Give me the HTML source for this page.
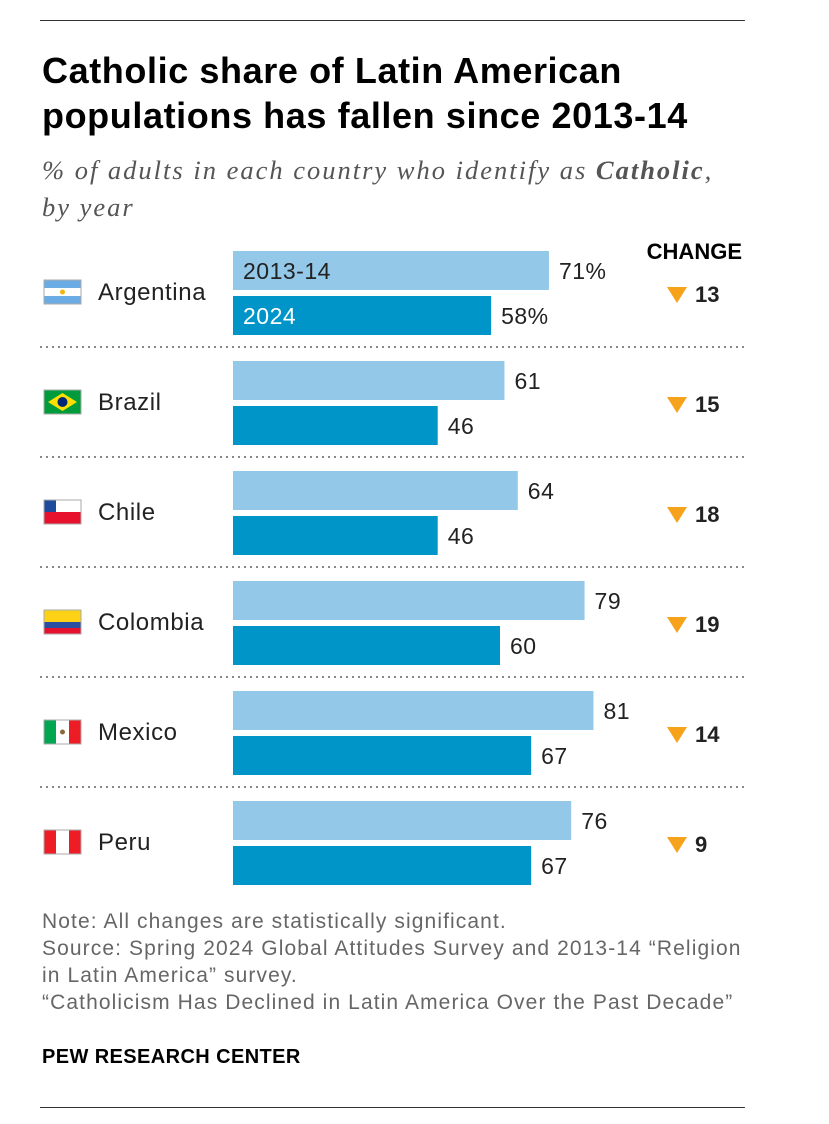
<!DOCTYPE html>
<html><head><meta charset="utf-8"><style>
body{margin:0;background:#fff;width:829px;height:1124px;position:relative;font-family:"Liberation Sans",sans-serif;color:#222}
.abs{position:absolute}
.title{left:42px;top:48px;font-size:36px;font-weight:bold;line-height:45px;color:#000;letter-spacing:0.6px;white-space:nowrap}
.sub{left:42px;top:152px;font-family:"Liberation Serif",serif;font-style:italic;font-size:26.5px;line-height:37px;color:#555;letter-spacing:2px;white-space:nowrap}
.note{left:42px;top:908px;font-size:21px;line-height:27px;color:#666;letter-spacing:1.1px;white-space:nowrap}
</style></head><body>
<div class="abs" style="left:40px;top:20px;width:705px;height:1px;background:#333"></div>
<div class="abs title">Catholic share of Latin American<br>populations has fallen since 2013-14</div>
<div class="abs sub">% of adults in each country who identify as <b>Catholic</b>,<br>by year</div>
<svg class="abs" style="left:0;top:0" width="829" height="900" id="chart"></svg>
<div class="abs note">Note: All changes are statistically significant.<br>Source: Spring 2024 Global Attitudes Survey and 2013-14 “Religion<br>in Latin America” survey.<br>“Catholicism Has Declined in Latin America Over the Past Decade”</div>
<div class="abs" style="left:42px;top:1046px;font-size:20px;font-weight:bold;color:#000;letter-spacing:0.4px">PEW RESEARCH CENTER</div>
<div class="abs" style="left:40px;top:1107px;width:705px;height:1px;background:#333"></div>
<script>
const countries=["Argentina","Brazil","Chile","Colombia","Mexico","Peru"];
const v2013=[71,61,64,79,81,76];
const v2024=[58,46,46,60,67,67];
const NS="http://www.w3.org/2000/svg";
const svg=document.getElementById('chart');
const x0=233, k=4.45;
function xs(v){return x0+v*k;}
function rowY(i){return 251+i*110;}
function mk(t,a,txt){const e=document.createElementNS(NS,t);for(const n in a)e.setAttribute(n,a[n]);if(txt!==undefined)e.textContent=txt;svg.appendChild(e);return e;}
const h=mk('text',{x:742,y:259,'text-anchor':'end','font-size':22,'font-weight':'bold',fill:'#000','font-family':'Liberation Sans'},'CHANGE');


function flag(i,y){
  const g=document.createElementNS(NS,'g');svg.appendChild(g);
  
  
  const X=44,W=37,H=24;
  function r(x,yy,w,hh,f){const e=document.createElementNS(NS,'rect');e.setAttribute('x',x);e.setAttribute('y',yy);e.setAttribute('width',w);e.setAttribute('height',hh);e.setAttribute('fill',f);g.appendChild(e);}
  const c=countries[i];
  if(c==="Argentina"){r(X,y,W,H,'#fff');r(X,y,W,8,'#6cace4');r(X,y+16,W,8,'#6cace4');const s=document.createElementNS(NS,'circle');s.setAttribute('cx',X+18.5);s.setAttribute('cy',y+12);s.setAttribute('r',2.5);s.setAttribute('fill','#f6b40e');g.appendChild(s);}
  if(c==="Brazil"){r(X,y,W,H,'#009b3a');const p=document.createElementNS(NS,'polygon');p.setAttribute('points',`${X+4},${y+12} ${X+18.5},${y+3} ${X+33},${y+12} ${X+18.5},${y+21}`);p.setAttribute('fill','#fedf00');g.appendChild(p);const s=document.createElementNS(NS,'circle');s.setAttribute('cx',X+18.5);s.setAttribute('cy',y+12);s.setAttribute('r',5);s.setAttribute('fill','#002776');g.appendChild(s);}
  if(c==="Chile"){r(X,y,W,12,'#fff');r(X,y+12,W,12,'#e8112d');r(X,y,12,12,'#1e4b9b');}
  if(c==="Colombia"){r(X,y,W,12,'#fcd116');r(X,y+12,W,6,'#2a4ea1');r(X,y+18,W,6,'#e8112d');}
  if(c==="Mexico"){r(X,y,W,H,'#fff');r(X,y,12,H,'#00a650');r(X+25,y,12,H,'#ee1c25');const s=document.createElementNS(NS,'circle');s.setAttribute('cx',X+18.5);s.setAttribute('cy',y+12);s.setAttribute('r',2.5);s.setAttribute('fill','#8a6a3a');g.appendChild(s);}
  if(c==="Peru"){r(X,y,W,H,'#fff');r(X,y,12,H,'#ee1c25');r(X+25,y,12,H,'#ee1c25');}
  const b=document.createElementNS(NS,'rect');b.setAttribute('x',X);b.setAttribute('y',y);b.setAttribute('width',W);b.setAttribute('height',H);b.setAttribute('fill','none');b.setAttribute('stroke','#aaa');b.setAttribute('stroke-width',1);g.appendChild(b);
}
countries.forEach((c,i)=>{
  const y=rowY(i);
  flag(i,y+29);
  const lb=mk('text',{x:98,y:y+49,'font-size':24,'letter-spacing':0.6,fill:'#222','font-family':'Liberation Sans'},c);
  
  
  const b1=mk('rect',{x:x0,y:y,width:xs(v2013[i])-x0,height:39,fill:'#93c8e8'});
  
  
  const b2=mk('rect',{x:x0,y:y+45,width:xs(v2024[i])-x0,height:39,fill:'#0095c8'});
  
  
  const t1=mk('text',{x:xs(v2013[i])+10,y:y+28,'font-size':23,'letter-spacing':0.5,fill:'#222','font-family':'Liberation Sans'},v2013[i]+(i===0?'%':''));
  
  
  const t2=mk('text',{x:xs(v2024[i])+10,y:y+73,'font-size':23,'letter-spacing':0.5,fill:'#222','font-family':'Liberation Sans'},v2024[i]+(i===0?'%':''));
  
  
  if(i===0){
    const a=mk('text',{x:x0+10,y:y+28,'font-size':23,'letter-spacing':0.5,fill:'#222','font-family':'Liberation Sans'},'2013-14');
    
    
    const b=mk('text',{x:x0+10,y:y+73,'font-size':23,'letter-spacing':0.5,fill:'#fff','font-family':'Liberation Sans'},'2024');
    
    
  }
  const tr=mk('polygon',{points:`667,${y+36} 687,${y+36} 677,${y+52}`,fill:'#f7a21b'});
  
  
  const ch=mk('text',{x:695,y:y+51,'font-size':22,'font-weight':'bold',fill:'#222','font-family':'Liberation Sans'},String(v2013[i]-v2024[i]));
  
  
  if(i<countries.length-1){
    const d=mk('line',{x1:40,x2:745,y1:y+96,y2:y+96,stroke:'#888','stroke-width':2,'stroke-dasharray':'2 4'});
    
    
  }
});
</script>
</body></html>
